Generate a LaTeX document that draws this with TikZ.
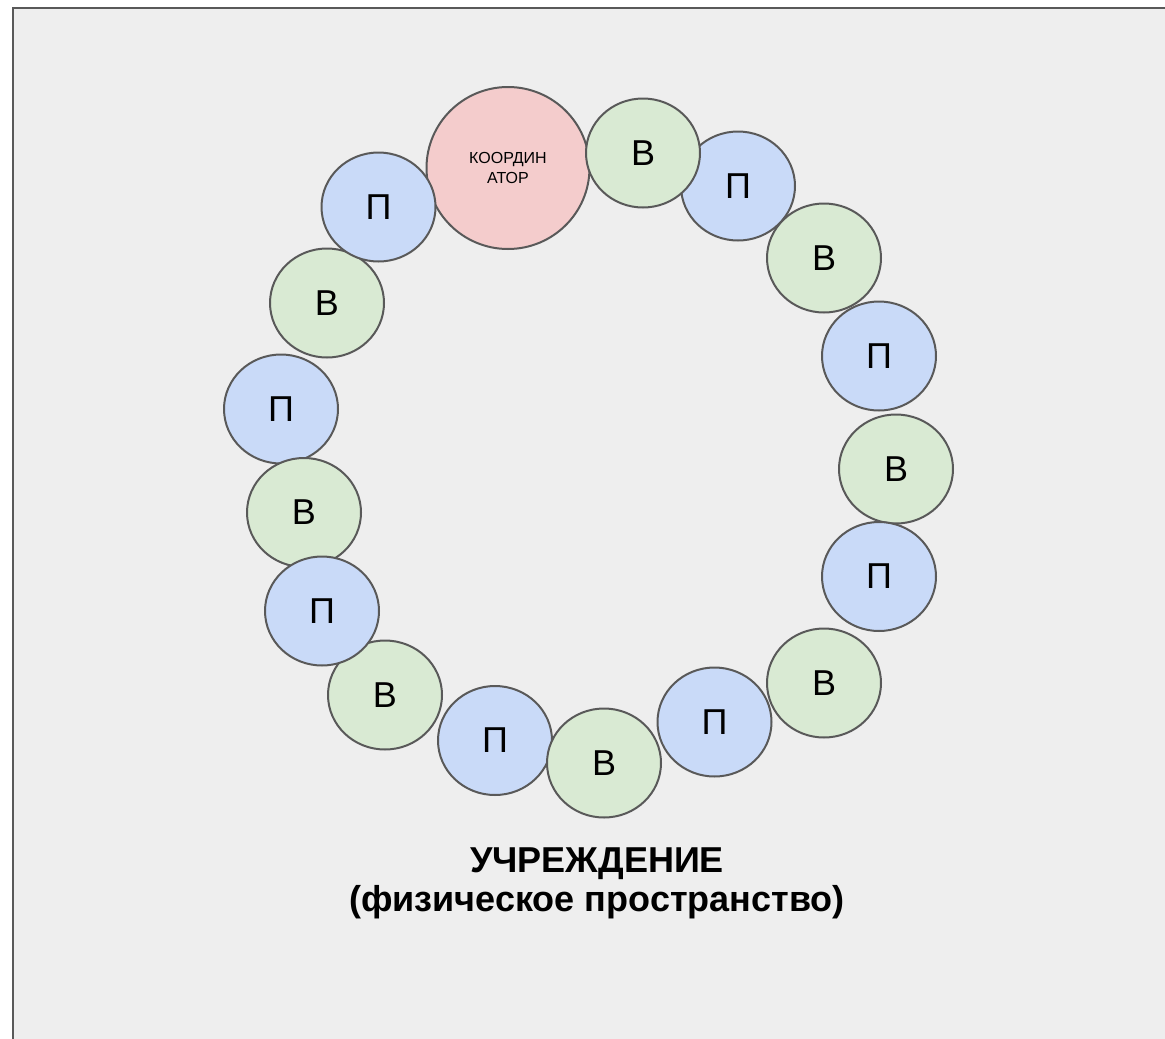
\documentclass[tikz,border=0pt]{standalone}
\usepackage{fontspec}
\setmainfont{Liberation Sans}
\usetikzlibrary{shapes.geometric}
\definecolor{linegray}{HTML}{595959}
\definecolor{roomgray}{HTML}{EEEEEE}
\definecolor{bluefill}{HTML}{C9DAF8}
\definecolor{greenfill}{HTML}{D9EAD3}
\definecolor{pinkfill}{HTML}{F4CCCC}
\tikzset{
  ring/.style={ellipse, draw=linegray, line width=2pt, inner sep=0pt,
    minimum width=114pt, minimum height=109pt, font=\fontsize{36}{40}\selectfont},
  pnode/.style={ring, fill=bluefill},
  vnode/.style={ring, fill=greenfill},
  coordnode/.style={ring, fill=pinkfill, minimum width=163pt, minimum height=162pt,
    align=center, font=\fontsize{16}{20}\selectfont},
}
\begin{document}
\begin{tikzpicture}[x=1pt,y=-1pt]
\useasboundingbox[fill=white] (0,0) rectangle (1165,1039);
\draw[linegray,fill=roomgray,line width=2.5pt] (13,8) rectangle (1200,1100);
\node[coordnode] (coord) at (508,168) {КООРДИН\\АТОР};
\node[pnode] (p1) at (738,186) {П};
\node[vnode] (v1) at (643,153) {В};
\node[vnode] (v2) at (824,258) {В};
\node[pnode] (p2) at (879,356) {П};
\node[vnode] (v3) at (896,469) {В};
\node[pnode] (p3) at (879,576.5) {П};
\node[vnode] (v6) at (385,695) {В};
\node[pnode] (p5) at (495,740.5) {П};
\node[vnode] (v5) at (604,763) {В};
\node[pnode] (p4) at (714.5,722) {П};
\node[vnode] (v4) at (824,683) {В};
\node[vnode] (v8) at (327,303) {В};
\node[pnode] (p7) at (281,409) {П};
\node[vnode] (v7) at (304,512.5) {В};
\node[pnode] (p6) at (322,611) {П};
\node[pnode] (p8) at (378.5,207) {П};
\node[align=center, font=\fontsize{36}{39}\selectfont\bfseries] (title) at (597,883)
  {УЧРЕЖДЕНИЕ\\(физическое пространство)};
\end{tikzpicture}
\end{document}
